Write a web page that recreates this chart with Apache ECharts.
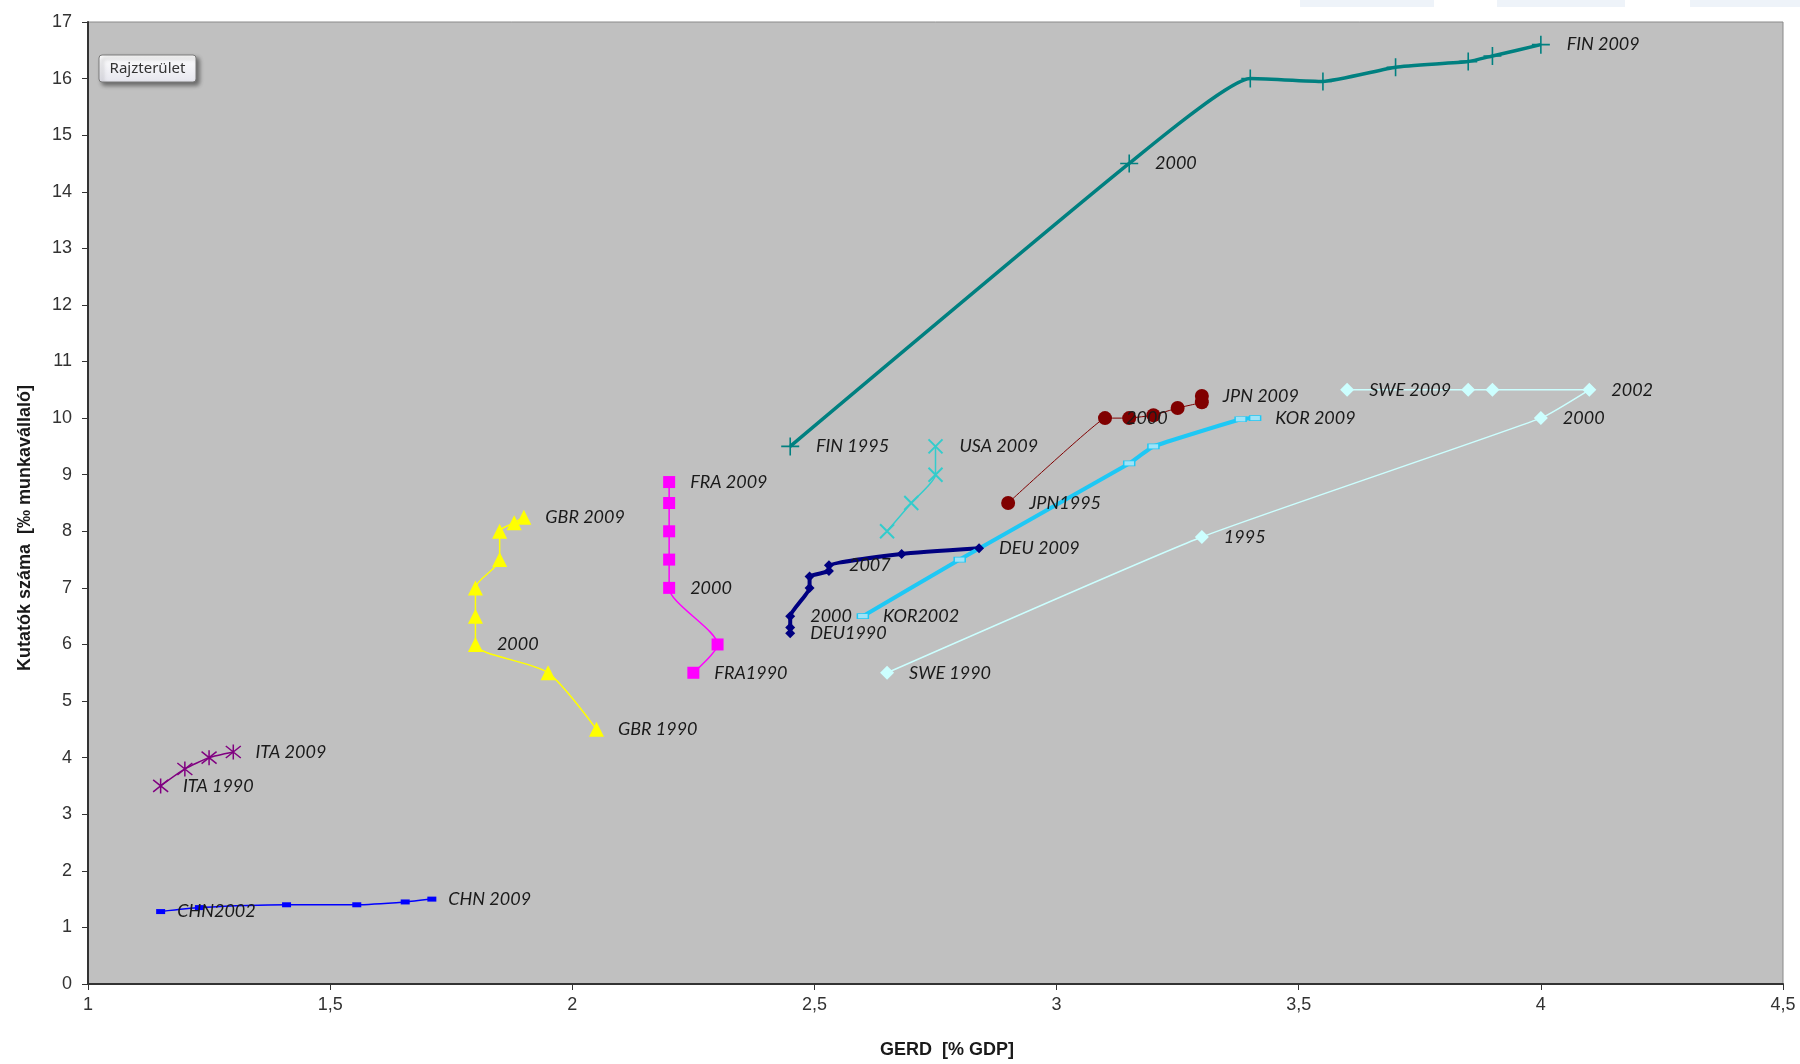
<!DOCTYPE html>
<html>
<head>
<meta charset="utf-8">
<script src="https://cdn.jsdelivr.net/npm/echarts@6/dist/echarts.min.js"></script>
<style>
html,body{margin:0;padding:0;background:#fff;}
#chart{width:1800px;height:1064px;}
</style>
</head>
<body>
<div id="chart"></div>
<script>
// ---- data ----
const xTicks = [1, 1.5, 2, 2.5, 3, 3.5, 4, 4.5];
const xTitle = 'GERD  [% GDP]';
const yTitle = 'Kutatók száma  [‰ munkavállaló]';

const finX = [2.45, 3.15, 3.40, 3.55, 3.70, 3.85, 3.90, 4.00];
const finY = [9.5, 14.5, 16.0, 15.95, 16.2, 16.3, 16.4, 16.6];
const finLabels = ['FIN 1995', '2000', '', '', '', '', '', 'FIN 2009'];

const jpnX = [2.90, 3.10, 3.15, 3.20, 3.25, 3.30, 3.30];
const jpnY = [8.5, 10.0, 10.0, 10.05, 10.18, 10.28, 10.39];
const jpnLabels = ['JPN1995', '2000', '', '', '', '', 'JPN 2009'];

const korX = [2.60, 2.80, 3.15, 3.20, 3.38, 3.41];
const korY = [6.5, 7.5, 9.2, 9.5, 9.98, 10.0];
const korLabels = ['KOR2002', '', '', '', '', 'KOR 2009'];

const deuX = [2.45, 2.45, 2.45, 2.49, 2.49, 2.53, 2.53, 2.68, 2.84];
const deuY = [6.2, 6.3, 6.5, 7.0, 7.2, 7.3, 7.4, 7.6, 7.7];
const deuLabels = ['DEU1990', '', '2000', '', '', '', '2007', '', 'DEU 2009'];

const usaX = [2.65, 2.70, 2.75, 2.75];
const usaY = [8.0, 8.5, 9.0, 9.5];
const usaLabels = ['', '', '', 'USA 2009'];

const sweX = [2.65, 3.30, 4.00, 4.10, 3.90, 3.85, 3.60];
const sweY = [5.5, 7.9, 10.0, 10.5, 10.5, 10.5, 10.5];
const sweLabels = ['SWE 1990', '1995', '2000', '2002', '', '', 'SWE 2009'];

const fraX = [2.25, 2.30, 2.20, 2.20, 2.20, 2.20, 2.20];
const fraY = [5.5, 6.0, 7.0, 7.5, 8.0, 8.5, 8.87];
const fraLabels = ['FRA1990', '', '2000', '', '', '', 'FRA 2009'];

const gbrX = [2.05, 1.95, 1.80, 1.80, 1.80, 1.85, 1.85, 1.88, 1.90];
const gbrY = [4.5, 5.5, 6.0, 6.5, 7.0, 7.5, 8.0, 8.15, 8.25];
const gbrLabels = ['GBR 1990', '', '2000', '', '', '', '', '', 'GBR 2009'];

const itaX = [1.15, 1.20, 1.25, 1.30];
const itaY = [3.5, 3.8, 4.0, 4.1];
const itaLabels = ['ITA 1990', '', '', 'ITA 2009'];

const chnX = [1.15, 1.23, 1.41, 1.555, 1.655, 1.71];
const chnY = [1.28, 1.35, 1.4, 1.4, 1.45, 1.5];
const chnLabels = ['CHN2002', '', '', '', '', 'CHN 2009'];

// ---- symbols ----
const SYM_PLUS = 'path://M10,0L10,20M0,10L20,10';
const SYM_X = 'path://M0,0L20,20M20,0L0,20';
const SYM_STAR = 'path://M10,0L10,20M2,2L18,18M18,2L2,18';

function pts(xs, ys) { return xs.map((x, i) => [x, ys[i]]); }

function mkSeries(name, xs, ys, labels, o) {
  return {
    name: name,
    type: 'line',
    data: pts(xs, ys),
    smooth: o.smooth != null ? o.smooth : 0.2,
    symbol: o.symbol,
    symbolSize: o.symbolSize,
    showAllSymbol: true,
    lineStyle: { color: o.color, width: o.width },
    itemStyle: o.stroke
      ? { color: 'rgba(0,0,0,0)', borderColor: o.color, borderWidth: o.stroke }
      : { color: o.fill || o.color, borderColor: o.border || o.fill || o.color, borderWidth: o.borderWidth || 0 },
    z: o.z || 2,
    label: {
      show: true,
      position: 'right',
      distance: o.dist,
      formatter: p => labels[p.dataIndex] || '',
      fontFamily: 'Lato, "Open Sans", sans-serif',
      fontStyle: 'italic',
      fontSize: 18,
      color: '#1a1a1a'
    },
    labelLayout: { hideOverlap: false },
    emphasis: { disabled: true },
    animation: false
  };
}

const series = [
  mkSeries('CHN', chnX, chnY, chnLabels, { color: '#0000ff', width: 1.5, symbol: 'rect', symbolSize: [9, 5], fill: '#0000ff', dist: 12 }),
  mkSeries('ITA', itaX, itaY, itaLabels, { color: '#800080', width: 1.5, symbol: SYM_STAR, symbolSize: 15, stroke: 1.5, dist: 14 }),
  mkSeries('GBR', gbrX, gbrY, gbrLabels, { color: '#ffff00', width: 1.5, symbol: 'triangle', symbolSize: 15, dist: 14, smooth: 0.25 }),
  mkSeries('FRA', fraX, fraY, fraLabels, { color: '#ff00ff', width: 1.5, symbol: 'rect', symbolSize: 12, dist: 15, smooth: 0.25 }),
  mkSeries('SWE', sweX, sweY, sweLabels, { color: '#ccffff', width: 1.5, symbol: 'diamond', symbolSize: 14, dist: 15, smooth: 0.15 }),
  mkSeries('USA', usaX, usaY, usaLabels, { color: '#33cccc', width: 1.5, symbol: SYM_X, symbolSize: 14, stroke: 2, dist: 16 }),
  mkSeries('DEU', deuX, deuY, deuLabels, { color: '#000080', width: 4, symbol: 'diamond', symbolSize: 10, dist: 15, smooth: 0.15 }),
  mkSeries('KOR', korX, korY, korLabels, { color: '#1ec8f5', width: 4, symbol: 'rect', symbolSize: [11, 5], fill: '#9fe3f7', border: '#1ec8f5', borderWidth: 1, dist: 14, smooth: 0.1 }),
  mkSeries('JPN', jpnX, jpnY, jpnLabels, { color: '#800000', width: 1, symbol: 'circle', symbolSize: 14, dist: 14, smooth: 0.05 }),
  mkSeries('FIN', finX, finY, finLabels, { color: '#008080', width: 3.5, symbol: SYM_PLUS, symbolSize: 18, stroke: 1.6, dist: 16, smooth: 0.15 })
];

const chart = echarts.init(document.getElementById('chart'), null, { renderer: 'canvas' });
chart.setOption({
  animation: false,
  backgroundColor: '#ffffff',
  grid: {
    left: 88, right: 17, top: 22, bottom: 80,
    show: true, backgroundColor: '#c0c0c0', borderColor: '#8a8a8a', borderWidth: 1
  },
  xAxis: {
    type: 'value', min: 1, max: 4.5, interval: 0.5,
    axisLine: { show: true, onZero: false, lineStyle: { color: '#333', width: 2 } },
    axisTick: { show: true, length: 6, lineStyle: { color: '#333' } },
    splitLine: { show: false },
    axisLabel: {
      margin: 12, fontFamily: '"Liberation Sans", Arial, sans-serif', fontSize: 18, color: '#333',
      formatter: v => xTicks.indexOf(v) >= 0 ? String(v).replace('.', ',') : ''
    }
  },
  yAxis: {
    type: 'value', min: 0, max: 17, interval: 1,
    axisLine: { show: true, onZero: false, lineStyle: { color: '#333', width: 2 } },
    axisTick: { show: true, length: 6, lineStyle: { color: '#333' } },
    splitLine: { show: false },
    axisLabel: { margin: 16, fontFamily: '"Liberation Sans", Arial, sans-serif', fontSize: 18, color: '#333' }
  },
  graphic: [
    { type: 'rect', shape: { x: 1300, y: 0, width: 134, height: 7 }, style: { fill: '#eef3f9' }, silent: true },
    { type: 'rect', shape: { x: 1497, y: 0, width: 128, height: 7 }, style: { fill: '#eef3f9' }, silent: true },
    { type: 'rect', shape: { x: 1690, y: 0, width: 110, height: 7 }, style: { fill: '#eef3f9' }, silent: true },
    {
      type: 'text', x: 947, y: 1050,
      style: { text: xTitle, font: 'bold 18px "Liberation Sans", Arial, sans-serif', fill: '#1a1a1a', textAlign: 'center', textVerticalAlign: 'middle' }
    },
    {
      type: 'text', x: 25, y: 528, rotation: Math.PI / 2,
      style: { text: yTitle, font: 'bold 18px "Liberation Sans", Arial, sans-serif', fill: '#1a1a1a', textAlign: 'center', textVerticalAlign: 'middle' }
    },
    {
      type: 'rect', z: 100,
      shape: { x: 99, y: 55, width: 97, height: 27, r: 3 },
      style: {
        fill: { type: 'linear', x: 0, y: 0, x2: 0, y2: 1, colorStops: [{ offset: 0, color: '#ffffff' }, { offset: 1, color: '#e6e6ee' }] },
        stroke: '#7a7a7a', lineWidth: 1,
        shadowBlur: 4, shadowOffsetX: 3, shadowOffsetY: 3, shadowColor: 'rgba(0,0,0,0.45)'
      }
    },
    {
      type: 'text', z: 101, x: 147.5, y: 68.5,
      style: { text: 'Rajzterület', font: '15px "Noto Sans", "Open Sans", sans-serif', fill: '#333', textAlign: 'center', textVerticalAlign: 'middle' }
    }
  ],
  series: series
});
</script>
</body>
</html>
